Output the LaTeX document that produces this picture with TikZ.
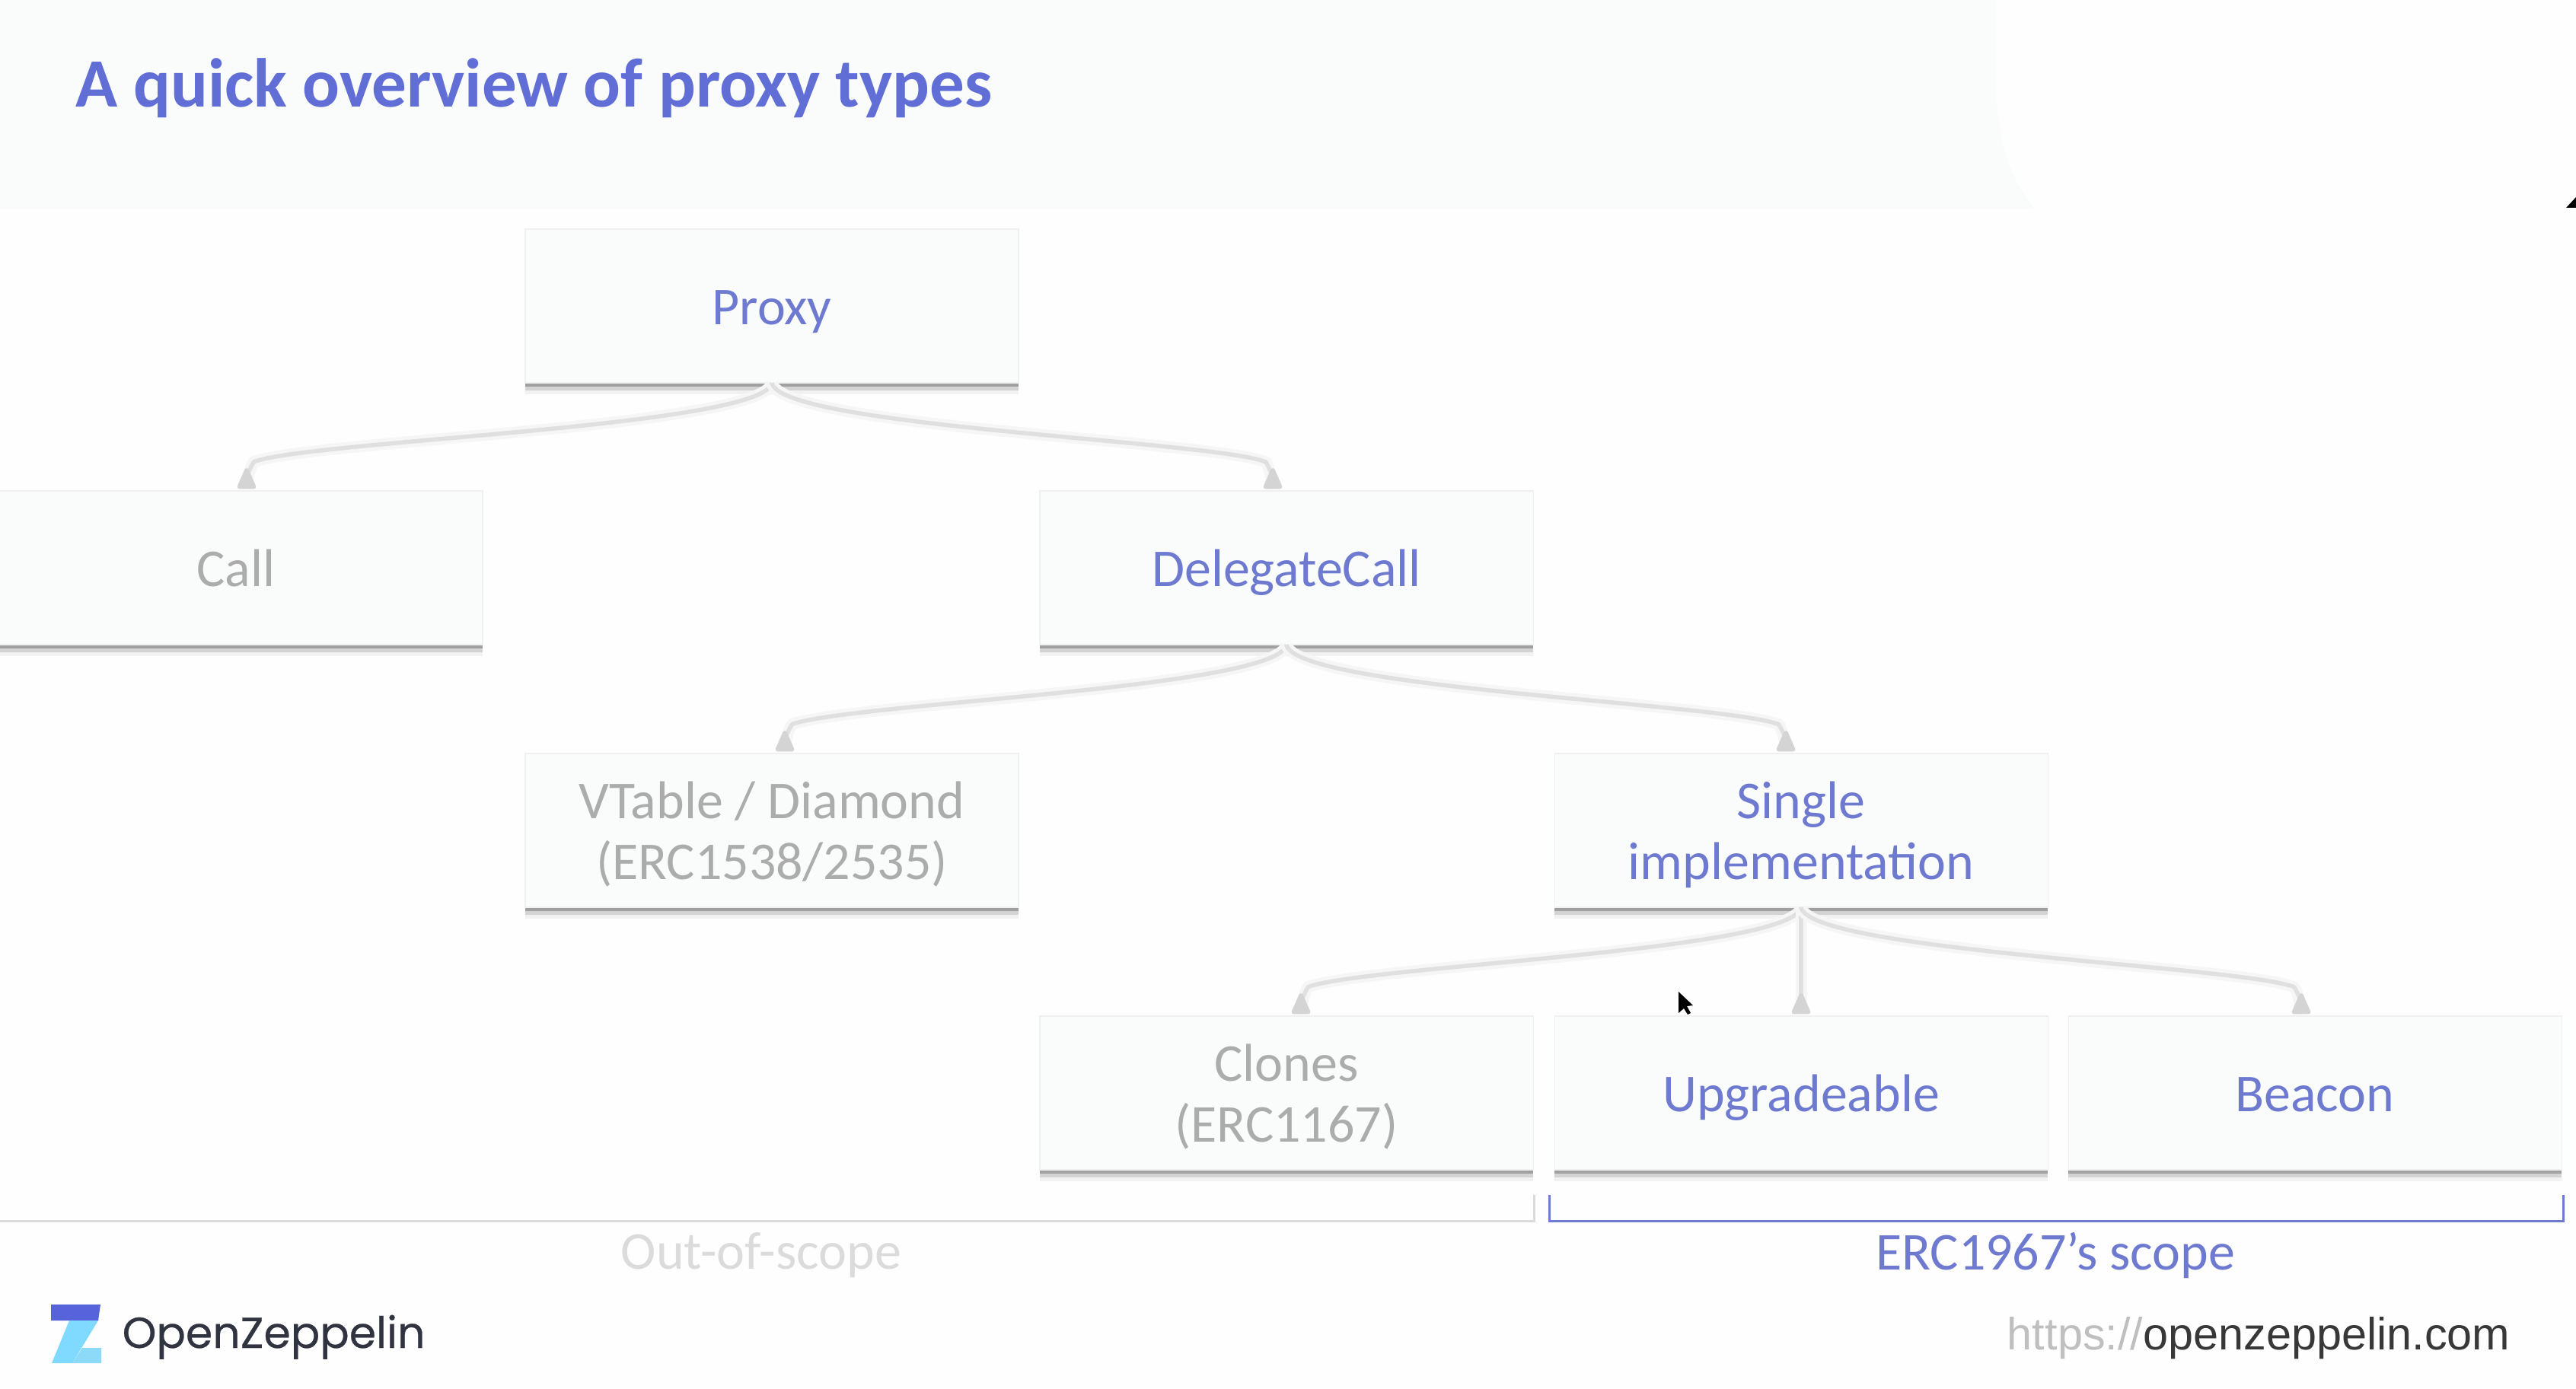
\documentclass[tikz,border=0pt]{standalone}
\usepackage{fontspec}
\setmainfont{Carlito}
\newfontfamily\logofont[FakeBold=0.4]{Poppins}
\newfontfamily\urlfont{Liberation Sans}
\usetikzlibrary{arrows.meta,calc,shadows}
\definecolor{ozblue}{RGB}{96,110,214}
\definecolor{ozlabel}{RGB}{110,122,208}
\definecolor{ozgray}{RGB}{172,172,172}
\definecolor{ozpanel}{RGB}{250,251,251}
\definecolor{ozlink}{RGB}{224,224,224}
\definecolor{ozink}{RGB}{48,51,64}
\newcommand{\lastline}[1]{\raisebox{0pt}[\height][0pt]{#1}}
\tikzset{
  box/.style={rectangle, minimum width=6.48cm, minimum height=2.02cm, inner sep=0pt,
              align=center, fill=ozpanel, draw=gray!12, line width=0.3pt,
              font=\fontsize{19.9}{22.7}\selectfont, text=#1,
              drop shadow={shadow xshift=0cm, shadow yshift=-0.15cm, fill=black, opacity=0.05},
              drop shadow={shadow xshift=0cm, shadow yshift=-0.10cm, fill=black, opacity=0.12},
              drop shadow={shadow xshift=0cm, shadow yshift=-0.05cm, fill=black, opacity=0.24}},
  oneline/.style={execute at begin node={\rule{0pt}{21pt}}, execute at end node={\rule[-6.8pt]{0pt}{1pt}}},
  link/.style={-{Triangle[reversed,round,length=0.32cm,width=0.26cm,color=black!17]}, line width=0.055cm, ozlink,
               preaction={draw=gray!7, line width=0.15cm, -}},
  scopelabel/.style={font=\fontsize{19.9}{22.7}\selectfont, text=#1},
}
\begin{document}
\begin{tikzpicture}
  \useasboundingbox (0,0) rectangle (33.84,18.24);
  \fill[white!99.5!black] (0,0) rectangle (33.84,18.24);
  % Header panel
  \fill[ozpanel] (0,18.24) -- (26.22,18.24) -- (26.22,17.2) .. controls (26.22,16.4) and (26.4,15.9) .. (26.72,15.5) -- (0,15.5) -- cycle;
  \node[anchor=base west, font=\fontsize{25.9}{30}\selectfont\bfseries, text=ozblue, inner sep=0pt] (title) at (0.99,16.83) {A quick overview of proxy types};
  % Boxes
  \node[box=ozlabel,oneline] (proxy) at (10.14,14.22) {Proxy};
  \node[box=ozgray,oneline] (call) at (3.10,10.78) {Call};
  \node[box=ozlabel,oneline] (delegate) at (16.90,10.78) {DelegateCall};
  \node[box=ozgray] (vtable) at (10.14,7.33) {VTable / Diamond\\\lastline{(ERC1538/2535)}};
  \node[box=ozlabel] (single) at (23.66,7.33) {Single\\\lastline{implementation}};
  \node[box=ozgray] (clones) at (16.90,3.88) {Clones\\\lastline{(ERC1167)}};
  \node[box=ozlabel,oneline] (upgrade) at (23.66,3.88) {Upgradeable};
  \node[box=ozlabel,oneline] (beacon) at (30.41,3.88) {Beacon};
  % Links
  \foreach \a/\b/\off/\d in {proxy/call/.14/-1, proxy/delegate/-.18/1, delegate/vtable/.17/-1,
      delegate/single/-.2/1, single/clones/.19/-1, single/upgrade/0/0, single/beacon/-.18/1}{
    \coordinate (tip) at ($(\b.north)+(\off,0.02)$);
    \coordinate (turn) at ($(tip)+(-\d*.1,.36)$);
    \draw[link] (\a.south) .. controls +(\d*.14,-.57) and +(-\d*.8,.28) .. (turn)
      .. controls +(\d*.04,-.03) and +(0,.12) .. (tip);
  }
  % Scope brackets
  \draw[ozgray!45, line width=0.03cm] (0,2.2) -- (20.15,2.2) -- (20.15,2.54);
  \draw[ozlabel, line width=0.03cm] (20.35,2.54) -- (20.35,2.2) -- (33.67,2.2) -- (33.67,2.54);
  \node[scopelabel=black!14] (outscope) at (10.0,1.75) {Out-of-scope};
  \node[scopelabel=ozlabel] (ercscope) at (27.0,1.75) {ERC1967's scope};
  % Logo
  \fill[ozblue!90!blue] (0.67,1.10) -- (1.32,1.10) -- (1.29,0.89) -- (0.67,0.89) -- cycle;
  \fill[blue!30!cyan!50!white] (0.91,0.89) -- (1.29,0.89) -- (0.95,0.33) -- (0.68,0.33) -- cycle;
  \fill[cyan!45!white] (1.08,0.53) -- (1.33,0.53) -- (1.33,0.33) -- (0.95,0.33) -- cycle;
  \node[anchor=base west, inner sep=0pt, text=ozink, font=\logofont\fontsize{16.2}{20}\selectfont] (logotext) at (1.60,0.53) {OpenZeppelin};
  \node[anchor=base east, inner sep=0pt, font=\urlfont\fontsize{16.9}{20}\selectfont] (urltext) at (32.98,0.51) {\textcolor{black!25}{https://}\textcolor{black!78}{openzeppelin.com}};
  % Pointer and corner mark
  \fill[black] (22.05,5.21) -- (22.05,4.93) -- (22.12,4.99) -- (22.17,4.91) -- (22.21,4.93) -- (22.16,5.02) -- (22.24,5.03) -- cycle;
  \fill[black] (33.71,15.51) -- (33.84,15.65) -- (33.84,15.51) -- cycle;
\end{tikzpicture}
\end{document}
